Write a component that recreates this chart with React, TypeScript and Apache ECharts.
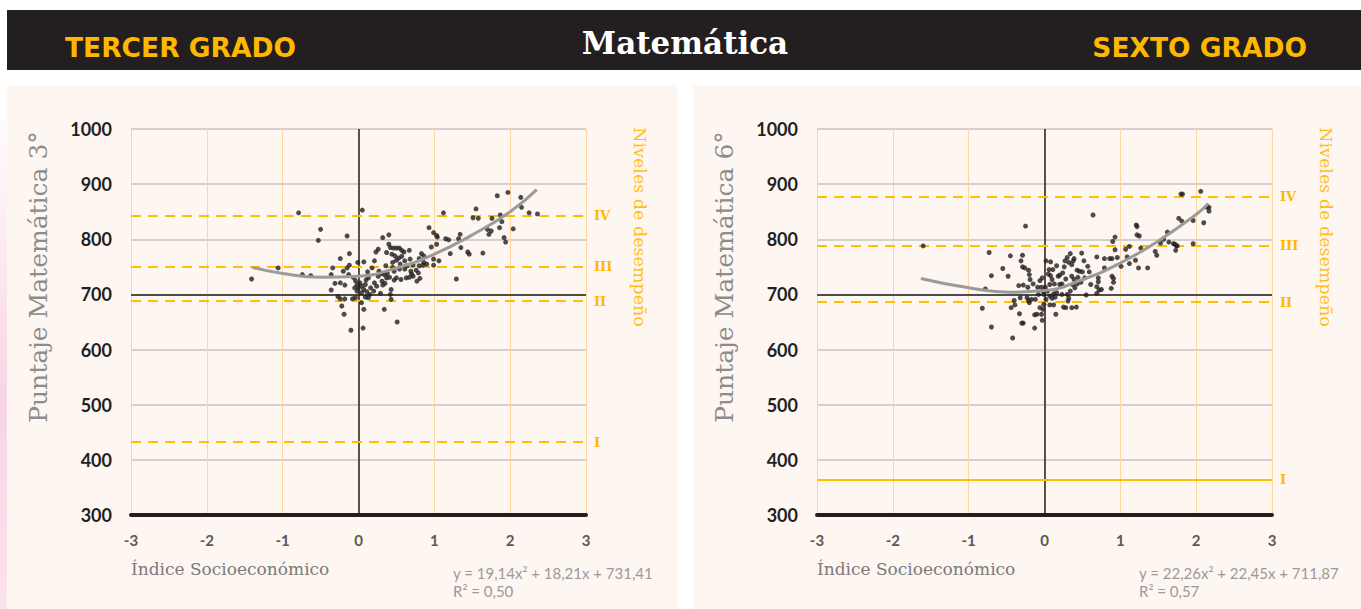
import React, { useEffect, useRef } from "react";
import * as echarts from "echarts";

// ---------- data ----------
const xTicks = [-3, -2, -1, 0, 1, 2, 3];
const yTicks = [300, 400, 500, 600, 700, 800, 900, 1000];

const levelNames = ["I", "II", "III", "IV"];
const levels3 = [432, 688, 750, 843];
const levels6 = [364, 686, 788, 877];

const trend3X = [-1.4, -1, -0.5, 0, 0.5, 1, 1.5, 2, 2.35];
const trend3Y = [749, 738, 731, 733, 748, 773, 808, 850, 890];
const trend6X = [-1.63, -1, -0.45, 0, 0.5, 1, 1.5, 2, 2.16];
const trend6Y = [729, 712, 704, 707, 727, 757, 797, 845, 865];

const equation3 = ["y = 19,14x² + 18,21x + 731,41", "R² = 0,50"];
const equation6 = ["y = 22,26x² + 22,45x + 711,87", "R² = 0,57"];

const scatter3: [number, number][] = [
  [-1.41, 728], [-1.06, 748], [-0.79, 848], [-0.74, 736], [-0.63, 734], [-0.5, 818], [-0.53, 798],
  [-0.15, 806], [-0.12, 774], [-0.34, 748], [-0.24, 765], [-0.36, 736], [0.05, 853], [-0.1, 635],
  [0.06, 639], [0.51, 650], [0.34, 673], [0.07, 673], [-0.19, 664], [-0.22, 679], [-0.24, 692],
  [-0.18, 692], [-0.27, 696], [-0.36, 708], [-0.31, 720], [-0.24, 721], [-0.18, 717], [-0.13, 736],
  [-0.2, 742], [-0.15, 748], [-0.12, 753], [-0.01, 758], [0.07, 759], [-0.04, 725], [-0.02, 718],
  [0.02, 721], [-0.05, 712], [0, 712], [0.04, 715], [0.09, 718], [0.07, 709], [-0.02, 706],
  [0.04, 703], [0.11, 705], [0.15, 700], [0.13, 694], [0.09, 695], [0.04, 685], [-0.04, 694],
  [-0.08, 692], [0.2, 706], [0.16, 712], [0.21, 721], [0.13, 730], [0.24, 715], [0.29, 702],
  [0.32, 717], [0.31, 724], [0.35, 720], [0.37, 730], [0.34, 736], [0.3, 738], [0.38, 738],
  [0.41, 731], [0.43, 709], [0.42, 700], [0.43, 691], [0.21, 761], [0.23, 777], [0.26, 782],
  [0.32, 803], [0.4, 808], [0.4, 791], [0.42, 785], [0.46, 784], [0.5, 784], [0.54, 784],
  [0.57, 780], [0.6, 777], [0.67, 780], [0.37, 776], [0.44, 773], [0.48, 770], [0.53, 766],
  [0.57, 769], [0.5, 762], [0.45, 758], [0.55, 755], [0.61, 761], [0.68, 764], [0.72, 753],
  [0.69, 742], [0.61, 746], [0.54, 746], [0.47, 742], [0.5, 730], [0.56, 727], [0.63, 730],
  [0.67, 731], [0.72, 733], [0.77, 724], [0.81, 729], [0.79, 739], [0.76, 744], [0.8, 765],
  [0.83, 774], [0.86, 770], [0.86, 758], [0.9, 755], [0.85, 753], [0.8, 752], [0.93, 821],
  [0.99, 812], [1.03, 807], [1.04, 804], [1.03, 791], [0.96, 786], [0.99, 764], [1.06, 761],
  [0.99, 753], [1.12, 848], [1.15, 801], [1.19, 799], [1.21, 774], [1.29, 728], [1.32, 801],
  [1.34, 809], [1.35, 785], [1.44, 777], [1.46, 773], [1.55, 855], [1.51, 839], [1.58, 838],
  [1.64, 775], [1.72, 809], [1.75, 815], [1.76, 838], [1.87, 844], [1.89, 832], [1.86, 821],
  [1.83, 879], [1.97, 885], [1.92, 803], [1.94, 795], [2.04, 819], [2.14, 876], [2.15, 858],
  [2.25, 848], [2.36, 846], [1.7, 818], [0.18, 748], [0.27, 742], [0.1, 726], [-0.07, 731],
  [0.12, 741], [0.36, 752], [0.45, 749], [0.64, 752], [0.7, 737], [0.47, 726], [0.26, 733],
];

const scatter6: [number, number][] = [
  [-1.6, 788], [-0.73, 776], [-0.7, 734], [-0.78, 710], [-0.82, 675], [-0.7, 641], [-0.42, 621],
  [-0.25, 824], [-0.55, 747], [-0.48, 733], [-0.45, 770], [-0.29, 771], [-0.31, 761], [-0.29, 750],
  [-0.26, 748], [-0.21, 744], [-0.2, 736], [-0.19, 727], [-0.22, 713], [-0.28, 717], [-0.34, 716],
  [-0.4, 689], [-0.44, 676], [-0.39, 681], [-0.33, 665], [-0.3, 648], [-0.28, 648], [-0.32, 694],
  [-0.23, 694], [-0.21, 689], [-0.17, 691], [-0.12, 691], [-0.2, 685], [-0.13, 663], [-0.1, 664],
  [-0.13, 639], [-0.03, 653], [-0.04, 664], [-0.06, 676], [-0.02, 673], [-0.01, 682], [0.02, 691],
  [-0.01, 700], [-0.02, 706], [0.01, 713], [-0.09, 713], [-0.04, 713], [-0.06, 725], [-0.03, 730],
  [0.02, 761], [0.08, 759], [0.06, 745], [0.11, 745], [0.08, 734], [0.1, 727], [0.07, 718],
  [0.13, 719], [0.04, 706], [0.07, 697], [0.12, 701], [0.1, 693], [0.14, 695], [0.16, 703],
  [0.07, 681], [0.12, 681], [0.15, 664], [0.23, 700], [0.2, 718], [0.23, 719], [0.18, 733],
  [0.24, 739], [0.26, 750], [0.27, 761], [0.3, 767], [0.34, 774], [0.32, 758], [0.36, 754],
  [0.38, 761], [0.39, 765], [0.43, 744], [0.46, 742], [0.49, 775], [0.52, 761], [0.57, 751],
  [0.59, 741], [0.53, 730], [0.5, 741], [0.36, 733], [0.39, 727], [0.37, 718], [0.4, 712],
  [0.43, 719], [0.34, 706], [0.3, 700], [0.32, 693], [0.31, 688], [0.36, 676], [0.42, 677],
  [0.28, 676], [0.25, 677], [0.55, 699], [0.61, 718], [0.69, 768], [0.71, 730], [0.71, 723],
  [0.69, 714], [0.72, 708], [0.69, 702], [0.75, 709], [0.64, 844], [0.79, 765], [0.79, 748],
  [0.86, 765], [0.89, 733], [0.91, 729], [0.91, 722], [0.88, 711], [0.89, 765], [0.9, 796],
  [0.93, 804], [0.93, 781], [0.96, 767], [1.01, 751], [1.07, 782], [1.12, 787], [1.09, 768],
  [1.12, 756], [1.2, 762], [1.24, 748], [1.36, 748], [1.21, 826], [1.22, 823], [1.22, 808],
  [1.25, 806], [1.27, 784], [1.46, 778], [1.48, 771], [1.53, 793], [1.57, 800], [1.62, 813],
  [1.64, 795], [1.7, 792], [1.72, 791], [1.74, 788], [1.73, 780], [1.75, 788], [1.77, 838],
  [1.81, 833], [1.8, 882], [1.82, 882], [1.96, 792], [1.96, 834], [2.06, 887], [2.1, 830],
  [2.14, 858], [2.17, 858], [2.17, 851], [0.2, 735], [0.28, 728], [0.44, 731], [-0.15, 719],
  [0.05, 737], [0.16, 752], [0.48, 722], [-0.08, 700],
];

// ---------- styles ----------
const DARK = "#231F20";
const ORANGE = "#FFB800";
const CREAM = "#FDF6F1";

function levelMarkLine(values: number[], solidFirst: boolean) {
  return values.map((v, i) => ({
    yAxis: v,
    lineStyle: {
      color: "#FFC000",
      width: 2,
      type: solidFirst && i === 0 ? "solid" : [10, 7],
    },
    label: {
      show: true,
      position: "end",
      distance: 8,
      formatter: levelNames[i],
      color: "#FFB800",
      fontFamily: "DejaVu Serif",
      fontWeight: "bold",
      fontSize: 13,
    },
  }));
}

function buildChart(
  idx: number,
  scatter: [number, number][],
  tx: number[],
  ty: number[],
  levels: number[],
  solidFirst: boolean
) {
  return [
    {
      type: "scatter",
      xAxisIndex: idx,
      yAxisIndex: idx,
      data: scatter,
      symbolSize: 5,
      itemStyle: { color: DARK },
      z: 5,
      markLine: {
        silent: true,
        symbol: "none",
        animation: false,
        label: { show: false },
        data: [
          { xAxis: 0, lineStyle: { color: DARK, width: 1.5, type: "solid" }, label: { show: false } },
          { yAxis: 700, lineStyle: { color: DARK, width: 1.5, type: "solid" }, label: { show: false } },
          ...levelMarkLine(levels, solidFirst),
        ],
      },
    },
    {
      type: "line",
      xAxisIndex: idx,
      yAxisIndex: idx,
      data: tx.map((x, i) => [x, ty[i]]),
      smooth: true,
      showSymbol: false,
      symbol: "none",
      lineStyle: { color: "#9B9B9B", width: 3 },
      z: 6,
    },
  ];
}

function xAxisCfg(idx: number) {
  return {
    type: "value",
    gridIndex: idx,
    min: xTicks[0],
    max: xTicks[xTicks.length - 1],
    interval: 1,
    axisLine: { show: true, onZero: false, lineStyle: { color: DARK, width: 4 } },
    axisTick: { show: false },
    axisLabel: {
      margin: 17,
      color: "#595959",
      fontFamily: "Lato",
      fontWeight: "bold",
      fontSize: 15,
      formatter: (v: number) => String(v),
    },
    splitLine: { show: true, lineStyle: { color: "#FFD59E", width: 1 } },
  };
}

function yAxisCfg(idx: number) {
  return {
    type: "value",
    gridIndex: idx,
    min: yTicks[0],
    max: yTicks[yTicks.length - 1],
    interval: 100,
    axisLine: { show: false },
    axisTick: { show: false },
    axisLabel: {
      margin: 19,
      color: DARK,
      fontFamily: "Lato",
      fontWeight: "bold",
      fontSize: 18,
      formatter: (v: number) => String(v),
    },
    splitLine: { show: true, lineStyle: { color: "#C4C4C4", width: 1.5 } },
  };
}

function sideTexts(gridLeft: number, yTitle: string, eq: string[]) {
  const gridRight = gridLeft + 455;
  return [
    {
      type: "text",
      x: gridLeft - 93,
      y: 277,
      rotation: Math.PI / 2,
      style: {
        text: yTitle,
        fill: "#8C8C8C",
        font: "25px 'DejaVu Serif'",
        textAlign: "center",
        textVerticalAlign: "middle",
      },
    },
    {
      type: "text",
      x: gridRight + 54,
      y: 227,
      rotation: -Math.PI / 2,
      style: {
        text: "Niveles de desempeño",
        fill: "#FFBE1A",
        font: "17.5px 'DejaVu Serif'",
        textAlign: "center",
        textVerticalAlign: "middle",
      },
    },
    {
      type: "text",
      x: gridLeft,
      y: 569,
      style: {
        text: "Índice Socioeconómico",
        fill: "#7A7A7A",
        font: "17px 'DejaVu Serif'",
        textAlign: "left",
        textVerticalAlign: "middle",
      },
    },
    {
      type: "text",
      x: gridLeft + 322,
      y: 573,
      style: {
        text: eq[0],
        fill: "#9A9A9A",
        font: "15px Lato",
        textAlign: "left",
        textVerticalAlign: "middle",
      },
    },
    {
      type: "text",
      x: gridLeft + 322,
      y: 591,
      style: {
        text: eq[1],
        fill: "#9A9A9A",
        font: "15px Lato",
        textAlign: "left",
        textVerticalAlign: "middle",
      },
    },
  ];
}

export default function App() {
  const ref = useRef<HTMLDivElement>(null);

  useEffect(() => {
    document.body.style.margin = "0";
    if (!ref.current) return;
    const chart = echarts.init(ref.current, null, { renderer: "svg" });

    const option = {
      animation: false,
      backgroundColor: "#FFFFFF",
      grid: [
        { left: 131, top: 129, width: 455, height: 386 },
        { left: 817, top: 129, width: 455, height: 386 },
      ],
      xAxis: [xAxisCfg(0), xAxisCfg(1)],
      yAxis: [yAxisCfg(0), yAxisCfg(1)],
      graphic: [
        {
          type: "rect",
          shape: { x: 0, y: 95, width: 8, height: 514 },
          style: {
            fill: new echarts.graphic.LinearGradient(0, 0, 0, 1, [
              { offset: 0, color: "#FFFFFF" },
              { offset: 0.6, color: "#F8D4E4" },
              { offset: 1, color: "#FBE3EE" },
            ]),
          },
          z: -12,
        },
        {
          type: "rect",
          shape: { x: 7, y: 85, width: 671, height: 524 },
          style: { fill: CREAM },
          z: -10,
        },
        {
          type: "rect",
          shape: { x: 693, y: 85, width: 668, height: 524 },
          style: { fill: CREAM },
          z: -10,
        },
        {
          type: "rect",
          shape: { x: 7, y: 10, width: 1354, height: 60 },
          style: { fill: DARK },
          z: -10,
        },
        {
          type: "text",
          x: 65,
          y: 47,
          style: {
            text: "TERCER GRADO",
            fill: ORANGE,
            font: "bold 26.5px 'DejaVu Sans'",
            textAlign: "left",
            textVerticalAlign: "middle",
          },
        },
        {
          type: "text",
          x: 1307,
          y: 47,
          style: {
            text: "SEXTO GRADO",
            fill: ORANGE,
            font: "bold 26.5px 'DejaVu Sans'",
            textAlign: "right",
            textVerticalAlign: "middle",
          },
        },
        {
          type: "text",
          x: 685,
          y: 43,
          style: {
            text: "Matemática",
            fill: "#FFFFFF",
            font: "bold 31px 'DejaVu Serif'",
            textAlign: "center",
            textVerticalAlign: "middle",
          },
        },
        ...sideTexts(131, "Puntaje Matemática 3°", equation3),
        ...sideTexts(817, "Puntaje Matemática 6°", equation6),
      ],
      series: [
        ...buildChart(0, scatter3, trend3X, trend3Y, levels3, false),
        ...buildChart(1, scatter6, trend6X, trend6Y, levels6, true),
      ],
    };

    chart.setOption(option as any);
    return () => chart.dispose();
  }, []);

  return <div ref={ref} style={{ width: 1361, height: 609 }} />;
}
